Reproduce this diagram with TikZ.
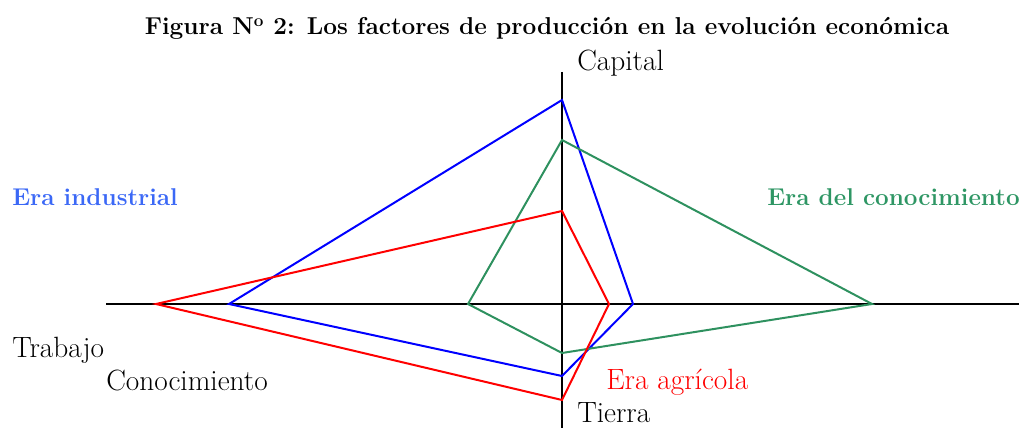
\documentclass[tikz,border=0pt]{standalone}
\usepackage{tikz}

\definecolor{azulera}{RGB}{59,104,246}
\definecolor{verdeera}{RGB}{46,150,100}
\definecolor{verdelinea}{RGB}{46,145,95}

\begin{document}
\begin{tikzpicture}[x=0.75pt, y=-0.75pt,
    eje/.style={line width=1.6pt, black},
    etiqueta/.style={anchor=base west, inner sep=0pt, font=\fontsize{22}{26}\selectfont},
    era/.style={anchor=base west, inner sep=0pt, font=\fontsize{18.2}{22}\selectfont\bfseries}]
    \useasboundingbox (0,0) rectangle (1023,428);

    % ejes
    \coordinate (ejeIzq) at (106,304);
    \coordinate (ejeDer) at (1019,304);
    \coordinate (ejeArr) at (562,72);
    \coordinate (ejeAbj) at (562,428);
    \draw[eje] (ejeIzq) -- (ejeDer);
    \draw[eje] (ejeArr) -- (ejeAbj);

    % era industrial
    \coordinate (indCap) at (562,100);
    \coordinate (indTie) at (633,304);
    \coordinate (indCon) at (562,376);
    \coordinate (indTra) at (229,304);
    \draw[line width=1.5pt, blue] (indCap) -- (indTie) -- (indCon) -- (indTra) -- cycle;

    % era del conocimiento
    \coordinate (conCap) at (562,140);
    \coordinate (conTie) at (872,304);
    \coordinate (conCon) at (562,353);
    \coordinate (conTra) at (468,304);
    \draw[line width=1.5pt, verdelinea] (conCap) -- (conTie) -- (conCon) -- (conTra) -- cycle;

    % era agricola
    \coordinate (agrCap) at (562,211);
    \coordinate (agrTie) at (609,304);
    \coordinate (agrCon) at (562,400);
    \coordinate (agrTra) at (156,304);
    \draw[line width=1.5pt, red] (agrCap) -- (agrTie) -- (agrCon) -- (agrTra) -- cycle;

    % textos
    \node[anchor=base, inner sep=0pt, font=\fontsize{18.3}{22}\selectfont\bfseries] (titulo) at (547,35)
        {Figura N\textsuperscript{o} 2: Los factores de producción en la evolución económica};
    \node[etiqueta] (capital) at (577,70) {Capital};
    \node[etiqueta] (trabajo) at (12,357) {Trabajo};
    \node[etiqueta] (conocimiento) at (106,390) {Conocimiento};
    \node[etiqueta] (tierra) at (577,422) {Tierra};
    \node[era, text=azulera] (industrial) at (12,205) {Era industrial};
    \node[era, text=verdeera] (delconoc) at (767,205) {Era del conocimiento};
    \node[etiqueta, text=red] (agricola) at (606,389) {Era agrícola};
\end{tikzpicture}
\end{document}
